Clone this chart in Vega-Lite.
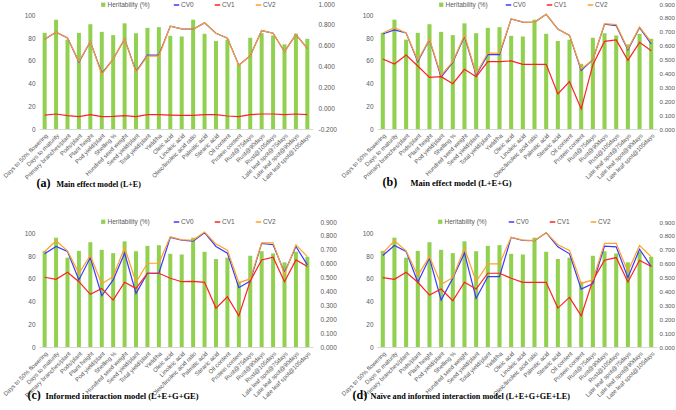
{
"$schema": "https://vega.github.io/schema/vega-lite/v6.json",
"padding": {"left": 1, "top": 1, "right": 0, "bottom": 0},
"config": {"view": {"stroke": null}, "font": "Liberation Sans"},
"bounds": "flush",
"spacing": {"row": 93, "column": 64},
"columns": 2,
"resolve": {"scale": {"fill": "independent", "stroke": "independent"}},
"datasets": {
"a": [
{"t":"Days to 50% flowering","h":84.6,"CV0":0.661,"CV1":-0.066,"CV2":0.661},
{"t":"Days to maturity","h":96.2,"CV0":0.729,"CV1":-0.056,"CV2":0.729},
{"t":"Primary branches/plant","h":78.6,"CV0":0.674,"CV1":-0.072,"CV2":0.674},
{"t":"Pods/plant","h":84.6,"CV0":0.442,"CV1":-0.082,"CV2":0.448},
{"t":"Plant height","h":92.2,"CV0":0.639,"CV1":-0.062,"CV2":0.639},
{"t":"Pod yield/plant","h":85.5,"CV0":0.335,"CV1":-0.082,"CV2":0.325},
{"t":"Shelling %","h":82.6,"CV0":0.471,"CV1":-0.079,"CV2":0.471},
{"t":"Hundred seed weight","h":93.0,"CV0":0.665,"CV1":-0.072,"CV2":0.665},
{"t":"Seed yield/plant","h":84.3,"CV0":0.352,"CV1":-0.082,"CV2":0.345},
{"t":"Total yield/plant","h":89.0,"CV0":0.51,"CV1":-0.062,"CV2":0.5},
{"t":"Yield/ha","h":89.6,"CV0":0.51,"CV1":-0.062,"CV2":0.5},
{"t":"Oleic acid","h":82.0,"CV0":0.787,"CV1":-0.066,"CV2":0.787},
{"t":"Linoleic acid","h":81.4,"CV0":0.761,"CV1":-0.069,"CV2":0.761},
{"t":"Oleic/linoleic acid ratio","h":96.2,"CV0":0.758,"CV1":-0.069,"CV2":0.758},
{"t":"Palmitic acid","h":83.8,"CV0":0.819,"CV1":-0.062,"CV2":0.819},
{"t":"Stearic acid","h":77.4,"CV0":0.719,"CV1":-0.062,"CV2":0.719},
{"t":"Oil content","h":78.6,"CV0":0.671,"CV1":-0.075,"CV2":0.671},
{"t":"Protein content","h":57.4,"CV0":0.413,"CV1":-0.082,"CV2":0.41},
{"t":"Rust@75days","h":80.3,"CV0":0.503,"CV1":-0.062,"CV2":0.503},
{"t":"Rust@90days","h":84.3,"CV0":0.745,"CV1":-0.056,"CV2":0.745},
{"t":"Rust@105days","h":82.3,"CV0":0.719,"CV1":-0.056,"CV2":0.719},
{"t":"Late leaf spot@75days","h":74.5,"CV0":0.542,"CV1":-0.062,"CV2":0.542},
{"t":"Late leaf spot@90days","h":83.8,"CV0":0.706,"CV1":-0.056,"CV2":0.706},
{"t":"Late leaf spot@105days","h":79.4,"CV0":0.574,"CV1":-0.062,"CV2":0.574}
],
"b": [
{"t":"Days to 50% flowering","h":84.6,"CV0":0.684,"CV1":0.504,"CV2":0.691},
{"t":"Days to maturity","h":96.2,"CV0":0.713,"CV1":0.468,"CV2":0.730},
{"t":"Primary branches/plant","h":78.6,"CV0":0.691,"CV1":0.533,"CV2":0.691},
{"t":"Pods/plant","h":84.6,"CV0":0.485,"CV1":0.454,"CV2":0.494},
{"t":"Plant height","h":92.2,"CV0":0.643,"CV1":0.372,"CV2":0.646},
{"t":"Pod yield/plant","h":85.5,"CV0":0.374,"CV1":0.377,"CV2":0.386},
{"t":"Shelling %","h":82.6,"CV0":0.480,"CV1":0.326,"CV2":0.485},
{"t":"Hundred seed weight","h":93.0,"CV0":0.667,"CV1":0.430,"CV2":0.677},
{"t":"Seed yield/plant","h":84.3,"CV0":0.389,"CV1":0.377,"CV2":0.398},
{"t":"Total yield/plant","h":89.0,"CV0":0.535,"CV1":0.485,"CV2":0.547},
{"t":"Yield/ha","h":89.6,"CV0":0.535,"CV1":0.485,"CV2":0.547},
{"t":"Oleic acid","h":82.0,"CV0":0.792,"CV1":0.490,"CV2":0.792},
{"t":"Linoleic acid","h":81.4,"CV0":0.770,"CV1":0.466,"CV2":0.770},
{"t":"Oleic/linoleic acid ratio","h":96.2,"CV0":0.768,"CV1":0.466,"CV2":0.768},
{"t":"Palmitic acid","h":83.8,"CV0":0.826,"CV1":0.466,"CV2":0.826},
{"t":"Stearic acid","h":77.4,"CV0":0.720,"CV1":0.252,"CV2":0.720},
{"t":"Oil content","h":78.6,"CV0":0.674,"CV1":0.341,"CV2":0.674},
{"t":"Protein content","h":57.4,"CV0":0.422,"CV1":0.144,"CV2":0.432},
{"t":"Rust@75days","h":80.3,"CV0":0.499,"CV1":0.463,"CV2":0.499},
{"t":"Rust@90days","h":84.3,"CV0":0.754,"CV1":0.631,"CV2":0.758},
{"t":"Rust@105days","h":82.3,"CV0":0.744,"CV1":0.641,"CV2":0.751},
{"t":"Late leaf spot@75days","h":74.5,"CV0":0.569,"CV1":0.494,"CV2":0.576},
{"t":"Late leaf spot@90days","h":83.8,"CV0":0.730,"CV1":0.624,"CV2":0.735},
{"t":"Late leaf spot@105days","h":79.4,"CV0":0.612,"CV1":0.564,"CV2":0.626}
],
"c": [
{"t":"Days to 50% flowering","h":84.6,"CV0":0.671,"CV1":0.502,"CV2":0.688},
{"t":"Days to maturity","h":96.2,"CV0":0.724,"CV1":0.487,"CV2":0.765},
{"t":"Primary branches/plant","h":78.6,"CV0":0.688,"CV1":0.538,"CV2":0.692},
{"t":"Pods/plant","h":84.6,"CV0":0.483,"CV1":0.470,"CV2":0.531},
{"t":"Plant height","h":92.2,"CV0":0.644,"CV1":0.379,"CV2":0.659},
{"t":"Pod yield/plant","h":85.5,"CV0":0.369,"CV1":0.422,"CV2":0.454},
{"t":"Shelling %","h":82.6,"CV0":0.483,"CV1":0.338,"CV2":0.507},
{"t":"Hundred seed weight","h":93.0,"CV0":0.676,"CV1":0.466,"CV2":0.717},
{"t":"Seed yield/plant","h":84.3,"CV0":0.386,"CV1":0.422,"CV2":0.466},
{"t":"Total yield/plant","h":89.0,"CV0":0.531,"CV1":0.531,"CV2":0.603},
{"t":"Yield/ha","h":89.6,"CV0":0.531,"CV1":0.531,"CV2":0.603},
{"t":"Oleic acid","h":82.0,"CV0":0.789,"CV1":0.495,"CV2":0.794},
{"t":"Linoleic acid","h":81.4,"CV0":0.770,"CV1":0.470,"CV2":0.772},
{"t":"Oleic/linoleic acid ratio","h":96.2,"CV0":0.762,"CV1":0.473,"CV2":0.770},
{"t":"Palmitic acid","h":83.8,"CV0":0.823,"CV1":0.466,"CV2":0.828},
{"t":"Stearic acid","h":77.4,"CV0":0.724,"CV1":0.280,"CV2":0.741},
{"t":"Oil content","h":78.6,"CV0":0.676,"CV1":0.362,"CV2":0.697},
{"t":"Protein content","h":57.4,"CV0":0.427,"CV1":0.224,"CV2":0.463},
{"t":"Rust@75days","h":80.3,"CV0":0.475,"CV1":0.475,"CV2":0.490},
{"t":"Rust@90days","h":84.3,"CV0":0.746,"CV1":0.627,"CV2":0.750},
{"t":"Rust@105days","h":82.3,"CV0":0.736,"CV1":0.647,"CV2":0.750},
{"t":"Late leaf spot@75days","h":74.5,"CV0":0.536,"CV1":0.470,"CV2":0.524},
{"t":"Late leaf spot@90days","h":83.8,"CV0":0.724,"CV1":0.627,"CV2":0.736},
{"t":"Late leaf spot@105days","h":79.4,"CV0":0.591,"CV1":0.579,"CV2":0.651}
],
"d": [
{"t":"Days to 50% flowering","h":84.6,"CV0":0.659,"CV1":0.499,"CV2":0.676},
{"t":"Days to maturity","h":96.2,"CV0":0.731,"CV1":0.487,"CV2":0.765},
{"t":"Primary branches/plant","h":78.6,"CV0":0.688,"CV1":0.538,"CV2":0.692},
{"t":"Pods/plant","h":84.6,"CV0":0.466,"CV1":0.466,"CV2":0.514},
{"t":"Plant height","h":92.2,"CV0":0.640,"CV1":0.374,"CV2":0.651},
{"t":"Pod yield/plant","h":85.5,"CV0":0.338,"CV1":0.417,"CV2":0.451},
{"t":"Shelling %","h":82.6,"CV0":0.495,"CV1":0.333,"CV2":0.499},
{"t":"Hundred seed weight","h":93.0,"CV0":0.676,"CV1":0.466,"CV2":0.712},
{"t":"Seed yield/plant","h":84.3,"CV0":0.350,"CV1":0.417,"CV2":0.470},
{"t":"Total yield/plant","h":89.0,"CV0":0.507,"CV1":0.531,"CV2":0.598},
{"t":"Yield/ha","h":89.6,"CV0":0.507,"CV1":0.531,"CV2":0.598},
{"t":"Oleic acid","h":82.0,"CV0":0.789,"CV1":0.495,"CV2":0.791},
{"t":"Linoleic acid","h":81.4,"CV0":0.767,"CV1":0.466,"CV2":0.770},
{"t":"Oleic/linoleic acid ratio","h":96.2,"CV0":0.765,"CV1":0.466,"CV2":0.767},
{"t":"Palmitic acid","h":83.8,"CV0":0.823,"CV1":0.466,"CV2":0.823},
{"t":"Stearic acid","h":77.4,"CV0":0.721,"CV1":0.280,"CV2":0.736},
{"t":"Oil content","h":78.6,"CV0":0.671,"CV1":0.357,"CV2":0.695},
{"t":"Protein content","h":57.4,"CV0":0.417,"CV1":0.224,"CV2":0.458},
{"t":"Rust@75days","h":80.3,"CV0":0.456,"CV1":0.480,"CV2":0.483},
{"t":"Rust@90days","h":84.3,"CV0":0.726,"CV1":0.625,"CV2":0.746},
{"t":"Rust@105days","h":82.3,"CV0":0.721,"CV1":0.644,"CV2":0.746},
{"t":"Late leaf spot@75days","h":74.5,"CV0":0.499,"CV1":0.468,"CV2":0.543},
{"t":"Late leaf spot@90days","h":83.8,"CV0":0.704,"CV1":0.625,"CV2":0.731},
{"t":"Late leaf spot@105days","h":79.4,"CV0":0.579,"CV1":0.579,"CV2":0.649}
]
},
"concat": [
{
"width": 274, "height": 125,
"data": {"name": "a"},
"resolve": {"scale": {"y": "independent"}},
"encoding": {"x": {"field": "t", "type": "nominal", "sort": null,
  "scale": {"paddingInner": 0.65, "paddingOuter": 0.32},
  "axis": {"title": "Main effect model (L+E)", "titleX": 17, "titleY": 57, "titleAlign": "left", "titleBaseline": "alphabetic", "titleFont": "Liberation Serif", "titleFontSize": 8, "titleFontWeight": "bold", "titleColor": "#000000",
    "labelAngle": -45, "labelFontSize": 6, "labelColor": "#595959", "ticks": false, "domainColor": "#d9d9d9", "labelPadding": 3, "labelOverlap": false}}},
"layer": [
 {"mark": {"type": "bar"},
  "encoding": {
   "y": {"field": "h", "type": "quantitative", "scale": {"domain": [0, 110], "nice": false},
     "axis": {"values": [0,20,40,60,80,100], "grid": false, "domain": false, "ticks": false, "labelFontSize": 6.5, "labelColor": "#595959", "labelPadding": 4,
       "title": "(a)", "titleAngle": 0, "titleX": -3, "titleY": 182, "titleAlign": "left", "titleBaseline": "alphabetic", "titleFont": "Liberation Serif", "titleFontSize": 12, "titleFontWeight": "bold", "titleColor": "#000000"}},
   "fill": {"datum": "Heritability (%)", "scale": {"range": ["#92d050"]},
     "legend": {"orient": "none", "legendX": 61, "legendY": -2.5, "title": null, "symbolType": "square", "symbolSize": 18, "labelFontSize": 6.5, "labelColor": "#595959", "labelOffset": 1}}
  }},
 {"transform": [{"fold": ["CV0","CV1","CV2"], "as": ["series","value"]}],
  "mark": {"type": "line", "strokeWidth": 1.2},
  "encoding": {
   "y": {"field": "value", "type": "quantitative", "scale": {"domain": [-0.2, 1.0], "nice": false, "zero": false},
     "axis": {"orient": "right", "title": null, "values": [-0.2,0,0.2,0.4,0.6,0.8,1.0], "labelExpr": "replace(format(datum.value, '.3f'), '\u2212', '-')", "grid": false, "domain": false, "ticks": false, "labelFontSize": 6.5, "labelColor": "#595959", "labelPadding": 5}},
   "stroke": {"field": "series", "type": "nominal", "scale": {"domain": ["CV0","CV1","CV2"], "range": ["#3a3aff","#ff2020","#ffa028"]},
     "legend": {"orient": "none", "direction": "horizontal", "legendX": 134, "legendY": -2.5, "title": null, "symbolType": "stroke", "symbolSize": 30, "symbolStrokeWidth": 1.5, "labelFontSize": 6.5, "labelColor": "#595959", "labelOffset": 1, "columnPadding": 17}}
  }}
]
},
{
"width": 280, "height": 125,
"data": {"name": "b"},
"resolve": {"scale": {"y": "independent"}},
"encoding": {"x": {"field": "t", "type": "nominal", "sort": null,
  "scale": {"paddingInner": 0.65, "paddingOuter": 0.32},
  "axis": {"title": "Main effect model (L+E+G)", "titleX": 33, "titleY": 56, "titleAlign": "left", "titleBaseline": "alphabetic", "titleFont": "Liberation Serif", "titleFontSize": 8.5, "titleFontWeight": "bold", "titleColor": "#000000",
    "labelAngle": -45, "labelFontSize": 6, "labelColor": "#595959", "ticks": false, "domainColor": "#d9d9d9", "labelPadding": 3, "labelOverlap": false}}},
"layer": [
 {"mark": {"type": "bar"},
  "encoding": {
   "y": {"field": "h", "type": "quantitative", "scale": {"domain": [0, 110], "nice": false},
     "axis": {"values": [0,20,40,60,80,100], "grid": false, "domain": false, "ticks": false, "labelFontSize": 6.5, "labelColor": "#595959", "labelPadding": 4,
       "title": "(b)", "titleAngle": 0, "titleX": 5, "titleY": 181, "titleAlign": "left", "titleBaseline": "alphabetic", "titleFont": "Liberation Serif", "titleFontSize": 12, "titleFontWeight": "bold", "titleColor": "#000000"}},
   "fill": {"datum": "Heritability (%)", "scale": {"range": ["#92d050"]},
     "legend": {"orient": "none", "legendX": 61, "legendY": -2.5, "title": null, "symbolType": "square", "symbolSize": 18, "labelFontSize": 6.5, "labelColor": "#595959", "labelOffset": 1}}
  }},
 {"transform": [{"fold": ["CV0","CV1","CV2"], "as": ["series","value"]}],
  "mark": {"type": "line", "strokeWidth": 1.2},
  "encoding": {
   "y": {"field": "value", "type": "quantitative", "scale": {"domain": [0, 0.9], "nice": false, "zero": false},
     "axis": {"orient": "right", "title": null, "values": [0,0.1,0.2,0.3,0.4,0.5,0.6,0.7,0.8,0.9], "format": ".3f", "grid": false, "domain": false, "ticks": false, "labelFontSize": 6.2, "labelColor": "#595959", "labelPadding": 2}},
   "stroke": {"field": "series", "type": "nominal", "scale": {"domain": ["CV0","CV1","CV2"], "range": ["#3a3aff","#ff2020","#ffa028"]},
     "legend": {"orient": "none", "direction": "horizontal", "legendX": 128, "legendY": -2.5, "title": null, "symbolType": "stroke", "symbolSize": 30, "symbolStrokeWidth": 1.5, "labelFontSize": 6.5, "labelColor": "#595959", "labelOffset": 1, "columnPadding": 17}}
  }}
]
},
{
"width": 274, "height": 125,
"data": {"name": "c"},
"resolve": {"scale": {"y": "independent"}},
"encoding": {"x": {"field": "t", "type": "nominal", "sort": null,
  "scale": {"paddingInner": 0.65, "paddingOuter": 0.32},
  "axis": {"title": "Informed interaction model (L+E+G+GE)", "titleX": 6, "titleY": 51, "titleAlign": "left", "titleBaseline": "alphabetic", "titleFont": "Liberation Serif", "titleFontSize": 8.5, "titleFontWeight": "bold", "titleColor": "#000000",
    "labelAngle": -45, "labelFontSize": 6, "labelColor": "#595959", "ticks": false, "domainColor": "#d9d9d9", "labelPadding": 3, "labelOverlap": false}}},
"layer": [
 {"mark": {"type": "bar"},
  "encoding": {
   "y": {"field": "h", "type": "quantitative", "scale": {"domain": [0, 110], "nice": false},
     "axis": {"values": [0,20,40,60,80,100], "grid": false, "domain": false, "ticks": false, "labelFontSize": 6.5, "labelColor": "#595959", "labelPadding": 4,
       "title": "(c)", "titleAngle": 0, "titleX": -12, "titleY": 176, "titleAlign": "left", "titleBaseline": "alphabetic", "titleFont": "Liberation Serif", "titleFontSize": 12, "titleFontWeight": "bold", "titleColor": "#000000"}},
   "fill": {"datum": "Heritability (%)", "scale": {"range": ["#92d050"]},
     "legend": {"orient": "none", "legendX": 61, "legendY": -3.5, "title": null, "symbolType": "square", "symbolSize": 18, "labelFontSize": 6.5, "labelColor": "#595959", "labelOffset": 1}}
  }},
 {"transform": [{"fold": ["CV0","CV1","CV2"], "as": ["series","value"]}],
  "mark": {"type": "line", "strokeWidth": 1.2},
  "encoding": {
   "y": {"field": "value", "type": "quantitative", "scale": {"domain": [0, 0.9], "nice": false, "zero": false},
     "axis": {"orient": "right", "title": null, "values": [0,0.1,0.2,0.3,0.4,0.5,0.6,0.7,0.8,0.9], "format": ".3f", "grid": false, "domain": false, "ticks": false, "labelFontSize": 6.5, "labelColor": "#595959", "labelPadding": 7}},
   "stroke": {"field": "series", "type": "nominal", "scale": {"domain": ["CV0","CV1","CV2"], "range": ["#3a3aff","#ff2020","#ffa028"]},
     "legend": {"orient": "none", "direction": "horizontal", "legendX": 134, "legendY": -3.5, "title": null, "symbolType": "stroke", "symbolSize": 30, "symbolStrokeWidth": 1.5, "labelFontSize": 6.5, "labelColor": "#595959", "labelOffset": 1, "columnPadding": 17}}
  }}
]
},
{
"width": 280, "height": 125,
"data": {"name": "d"},
"resolve": {"scale": {"y": "independent"}},
"encoding": {"x": {"field": "t", "type": "nominal", "sort": null,
  "scale": {"paddingInner": 0.65, "paddingOuter": 0.32},
  "axis": {"title": "Naïve and informed interaction model (L+E+G+GE+LE)", "titleX": -7, "titleY": 51, "titleAlign": "left", "titleBaseline": "alphabetic", "titleFont": "Liberation Serif", "titleFontSize": 8.2, "titleFontWeight": "bold", "titleColor": "#000000",
    "labelAngle": -45, "labelFontSize": 6, "labelColor": "#595959", "ticks": false, "domainColor": "#d9d9d9", "labelPadding": 3, "labelOverlap": false}}},
"layer": [
 {"mark": {"type": "bar"},
  "encoding": {
   "y": {"field": "h", "type": "quantitative", "scale": {"domain": [0, 110], "nice": false},
     "axis": {"values": [0,20,40,60,80,100], "grid": false, "domain": false, "ticks": false, "labelFontSize": 6.5, "labelColor": "#595959", "labelPadding": 4,
       "title": "(d)", "titleAngle": 0, "titleX": -25, "titleY": 176, "titleAlign": "left", "titleBaseline": "alphabetic", "titleFont": "Liberation Serif", "titleFontSize": 12, "titleFontWeight": "bold", "titleColor": "#000000"}},
   "fill": {"datum": "Heritability (%)", "scale": {"range": ["#92d050"]},
     "legend": {"orient": "none", "legendX": 60, "legendY": -3.5, "title": null, "symbolType": "square", "symbolSize": 18, "labelFontSize": 6.5, "labelColor": "#595959", "labelOffset": 1}}
  }},
 {"transform": [{"fold": ["CV0","CV1","CV2"], "as": ["series","value"]}],
  "mark": {"type": "line", "strokeWidth": 1.2},
  "encoding": {
   "y": {"field": "value", "type": "quantitative", "scale": {"domain": [0, 0.9], "nice": false, "zero": false},
     "axis": {"orient": "right", "title": null, "values": [0,0.1,0.2,0.3,0.4,0.5,0.6,0.7,0.8,0.9], "format": ".3f", "grid": false, "domain": false, "ticks": false, "labelFontSize": 6.2, "labelColor": "#595959", "labelPadding": 2}},
   "stroke": {"field": "series", "type": "nominal", "scale": {"domain": ["CV0","CV1","CV2"], "range": ["#3a3aff","#ff2020","#ffa028"]},
     "legend": {"orient": "none", "direction": "horizontal", "legendX": 131, "legendY": -3.5, "title": null, "symbolType": "stroke", "symbolSize": 30, "symbolStrokeWidth": 1.5, "labelFontSize": 6.5, "labelColor": "#595959", "labelOffset": 1, "columnPadding": 17}}
  }}
]
}
]
}
